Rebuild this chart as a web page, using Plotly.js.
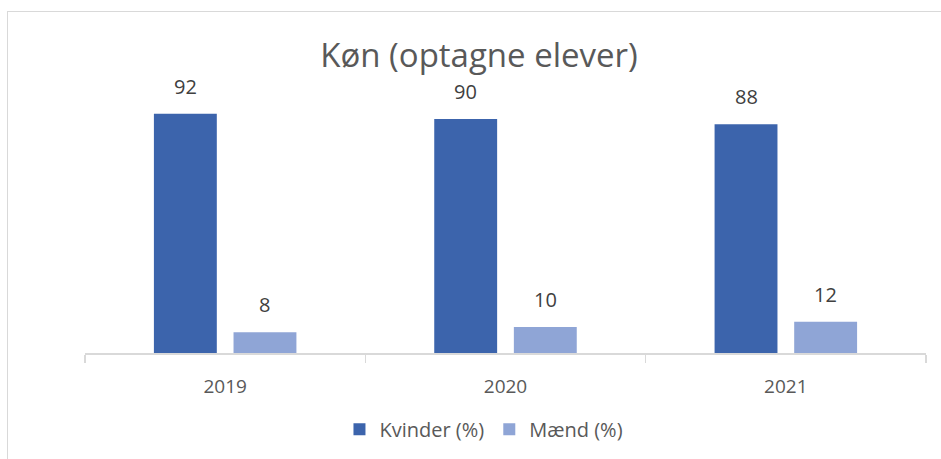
<!DOCTYPE html>
<html>
<head>
<meta charset="utf-8">
<script src="https://cdn.plot.ly/plotly-3.0.1.min.js"></script>
<style>
  html, body { margin: 0; padding: 0; background: #fff; }
  #wrap { position: relative; width: 941px; height: 459px; overflow: hidden; }
  #chart { width: 941px; height: 459px; }
  #frame { position: absolute; left: 7px; top: 11px; width: 960px; height: 480px;
           border-left: 1.5px solid #d9d9d9; border-top: 1.5px solid #d9d9d9; pointer-events: none; }
</style>
</head>
<body>
<div id="wrap"><div id="chart"></div><div id="frame"></div></div>
<script>
const years = ['2019', '2020', '2021'];
const kvinder = [92, 90, 88];
const maend = [8, 10, 12];
const seriesNames = ['Kvinder (%)', 'Mænd (%)'];
const chartTitle = 'Køn (optagne elever)';

const FONT = 'Open Sans, sans-serif';
const colors = ['#3c64ac', '#8fa5d6'];

const traces = [kvinder, maend].map((vals, i) => ({
  type: 'bar',
  name: seriesNames[i],
  x: years,
  y: vals,
  marker: { color: colors[i] },
  hoverinfo: 'x+y+name'
}));

// data labels above the bars (positioned through the axes, by category index)
const annotations = [];
[kvinder, maend].forEach((vals, i) => {
  vals.forEach((v, j) => {
    annotations.push({
      x: j, y: v, xref: 'x', yref: 'y',
      text: String(v), showarrow: false,
      xshift: i === 0 ? -39.8 : 39.8, yshift: 12,
      yanchor: 'bottom',
      font: { family: FONT, size: 20, color: '#404040' }
    });
  });
});

const layout = {
  width: 941, height: 459,
  margin: { l: 85, r: 15, t: 92.5, b: 104.5 },
  paper_bgcolor: '#ffffff', plot_bgcolor: '#ffffff',
  title: { text: chartTitle, x: 479 / 941, xref: 'container', xanchor: 'center', y: 1 - 55 / 459, yanchor: 'middle',
           font: { family: FONT, size: 33, color: '#595959' } },
  barmode: 'group', bargap: 0.432, bargroupgap: 0.21,
  xaxis: {
    type: 'category', categoryorder: 'array', categoryarray: years, range: [-0.5, years.length - 0.5],
    showline: true, linecolor: '#d9d9d9', linewidth: 1.5,
    ticks: 'outside', tickson: 'boundaries', ticklen: 8, tickcolor: '#d9d9d9', tickwidth: 1.5,
    ticklabelstandoff: 16,
    tickfont: { family: FONT, size: 19, color: '#595959' }, showgrid: false, zeroline: false, tickangle: 0
  },
  yaxis: { range: [0, 100], visible: false, showgrid: false, zeroline: false, fixedrange: true },
  showlegend: true,
  legend: { orientation: 'h', x: 0.4744, xanchor: 'center', xref: 'paper', y: -0.288, yanchor: 'middle',
            font: { family: FONT, size: 20, color: '#595959' }, traceorder: 'normal' },
  annotations: annotations
};

Plotly.newPlot('chart', traces, layout, { displayModeBar: false, staticPlot: true });
</script>
</body>
</html>
